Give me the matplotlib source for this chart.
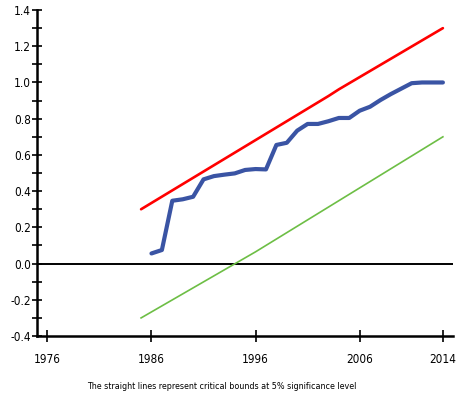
import matplotlib
matplotlib.use("Agg")
import matplotlib.pyplot as plt
from matplotlib.ticker import MultipleLocator, FixedLocator
from matplotlib import font_manager

names = {f.name for f in font_manager.fontManager.ttflist}
fam = ["Liberation Sans Narrow", "DejaVu Sans"]
fam = [f for f in fam if f in names] or ["DejaVu Sans"]
plt.rcParams['font.family'] = fam
plt.rcParams['font.stretch'] = 'condensed'

# CUSUM of squares statistic
years = list(range(1986, 2015))
cusumsq = [0.056, 0.075, 0.347, 0.355, 0.369, 0.465, 0.483, 0.491, 0.498, 0.517,
           0.522, 0.520, 0.655, 0.667, 0.734, 0.771, 0.771, 0.786, 0.804, 0.804,
           0.844, 0.866, 0.903, 0.936, 0.966, 0.996, 1.000, 1.000, 1.000]

# critical bounds (5%)
upper_years = [1985, 2003, 2004, 2014]
upper_vals = [0.30, 0.925, 0.962, 1.30]
lower_years = [1985, 1996, 2014]
lower_vals = [-0.30, 0.065, 0.70]

xticks = [1976, 1986, 1996, 2006, 2014]
caption = "The straight lines represent critical bounds at 5% significance level"

fig = plt.figure(figsize=(4.59, 4.01), dpi=100)
ax = fig.add_axes([0.0806, 0.162, 0.907, 0.813])

ax.plot(upper_years, upper_vals, color="#FF0000", lw=1.9, solid_capstyle="round", zorder=3)
ax.plot(lower_years, lower_vals, color="#6DBE45", lw=1.2, zorder=3)
ax.plot(years, cusumsq, color="#3A54A4", lw=3.0, solid_capstyle="round",
        solid_joinstyle="round", zorder=4)
ax.axhline(0, color="black", lw=1.4, zorder=2)

ax.set_xlim(1975, 2015)
ax.set_ylim(-0.4, 1.4)
ax.xaxis.set_major_locator(FixedLocator(xticks))
ax.yaxis.set_major_locator(MultipleLocator(0.2))
ax.yaxis.set_minor_locator(MultipleLocator(0.1))
ax.yaxis.set_major_formatter(matplotlib.ticker.FormatStrFormatter('%.1f'))

for s in ["top", "right"]:
    ax.spines[s].set_visible(False)
for s in ["left", "bottom"]:
    ax.spines[s].set_linewidth(1.8)
    ax.spines[s].set_color("black")

ax.tick_params(axis="both", which="both", direction="inout", width=1.2, color="black")
ax.tick_params(axis="y", which="major", length=7, pad=1, labelsize=8.5)
ax.tick_params(axis="y", which="minor", length=7)
ax.tick_params(axis="x", which="major", length=8, pad=8, labelsize=8.5)

fig.text(0.483, 0.037, caption, ha="center", va="center", fontsize=6.4)

fig.savefig("out.png", dpi=100)
